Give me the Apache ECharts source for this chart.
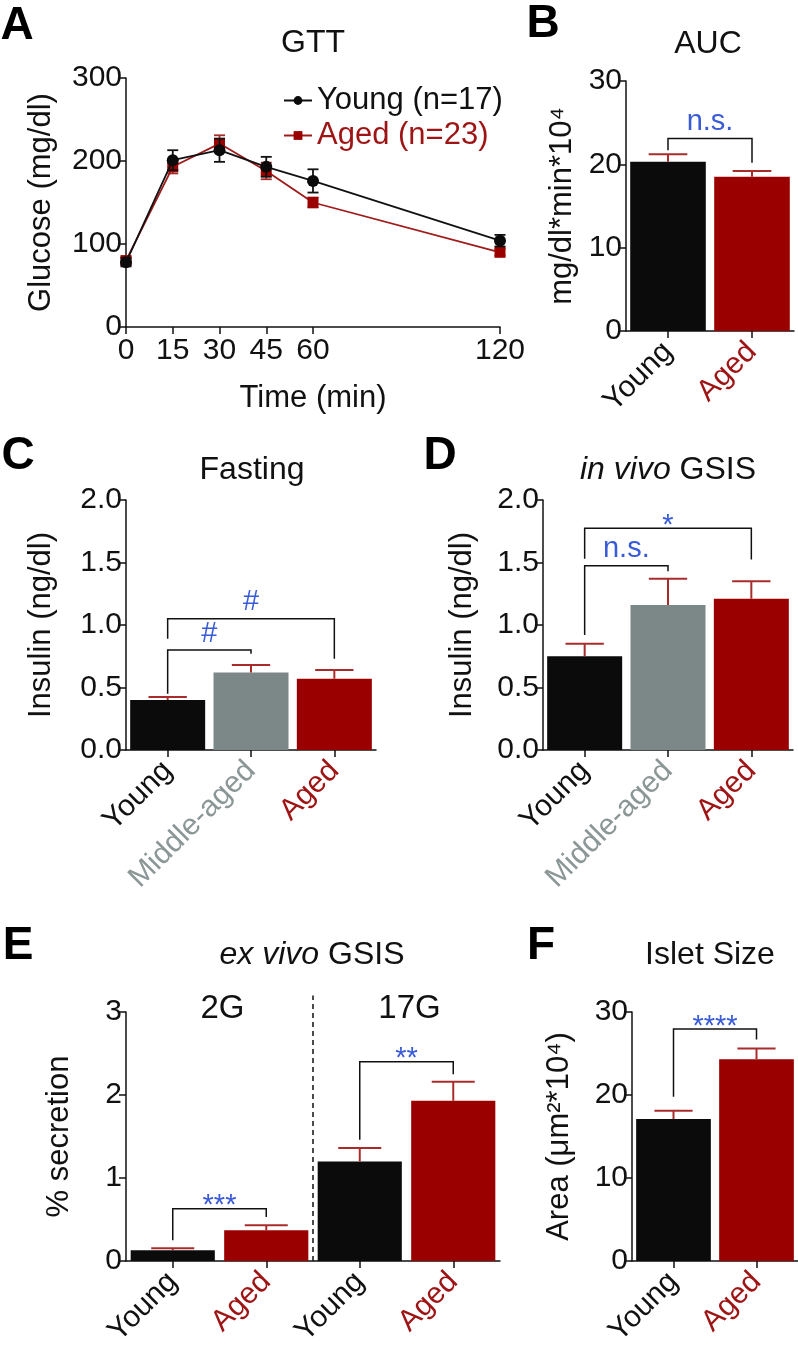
<!DOCTYPE html>
<html><head><meta charset="utf-8">
<script src="https://cdn.jsdelivr.net/npm/echarts@6/dist/echarts.min.js"></script>
<style>html,body{margin:0;padding:0;background:#fff}#c{width:798px;height:1358px}</style>
</head><body><div id="c"></div>
<script>
// ---------------- data ----------------
const gttTimes = [0, 15, 30, 45, 60, 120];
const gttTickValues = [0, 15, 30, 45, 60, 120];
const gttYoung = [78, 201, 213, 193, 176, 104];
const gttYoungErr = [5, 12, 14, 12, 14, 7];
const gttAged = [80, 193, 221, 188, 150, 90];
const gttAgedErr = [4, 8, 10, 10, 6, 4];

const aucCats = ['Young', 'Aged'];
const aucMean = [20.3, 18.5];
const aucErr = [0.9, 0.7];
const aucBrackets = [[0, 1, 23.1, 21.7, 20.2, 'n.s.']];

const insCats = ['Young', 'Middle-aged', 'Aged'];
const fastMean = [0.40, 0.62, 0.57];
const fastErr = [0.025, 0.06, 0.07];
const fastBrackets = [[0, 1, 0.80, 0.45, 0.77, '#'], [0, 2, 1.05, 0.89, 0.73, '#']];
const gsisMean = [0.75, 1.16, 1.21];
const gsisErr = [0.10, 0.21, 0.14];
const gsisBrackets = [[0, 1, 1.475, 0.92, 1.43, 'n.s.'], [0, 2, 1.775, 1.53, 1.525, '*']];

const exCats = ['Young', 'Aged', 'Young', 'Aged'];
const exMean = [0.13, 0.37, 1.20, 1.93];
const exErr = [0.025, 0.06, 0.16, 0.23];
const exBrackets = [[0, 1, 0.63, 0.25, 0.53, '***'], [2, 3, 2.40, 1.46, 2.25, '**']];
const exGroups = [[0, 1, '2G'], [2, 3, '17G']];
const exDivider = [[1, 2, 3.2]];

const isletCats = ['Young', 'Aged'];
const isletMean = [17.1, 24.3];
const isletErr = [1.0, 1.3];
const isletBrackets = [[0, 1, 27.95, 19.8, 26.7, '****']];

// ---------------- styles ----------------
const FONT = "'Liberation Sans', Arial, Helvetica, sans-serif";
const INK = '#111111';
const BLACK = '#0b0b0b';
const RED = '#9b0000';
const REDTXT = '#9e1414';
const GRAY = '#7c8888';
const GRAYTXT = '#8b9696';
const ERR = '#a82c2c';
const BLUE = '#3a5bd8';
const catColor = { 'Young': BLACK, 'Middle-aged': GRAY, 'Aged': RED };
const catText = { 'Young': INK, 'Middle-aged': GRAYTXT, 'Aged': REDTXT };

const grids = [
  { left: 126, top: 78, width: 374, height: 249 },
  { left: 626, top: 81, width: 168, height: 250 },
  { left: 126, top: 500, width: 250, height: 250 },
  { left: 543, top: 500, width: 250, height: 250 },
  { left: 126, top: 1012, width: 374, height: 249 },
  { left: 632, top: 1012, width: 166, height: 249 }
];

const axisLineStyle = { show: true, lineStyle: { color: INK, width: 1.5 } };
const tickStyle = { show: true, length: 7, lineStyle: { color: INK, width: 1.5 } };

function yAxis(gi, max, interval, name, gap, dec) {
  return {
    type: 'value', gridIndex: gi, min: 0, max: max, interval: interval,
    axisLine: axisLineStyle, axisTick: tickStyle, splitLine: { show: false },
    axisLabel: { fontSize: 30, fontFamily: FONT, color: INK, margin: 4,
      formatter: v => dec ? v.toFixed(1) : String(v) },
    name: name, nameLocation: 'middle', nameGap: gap,
    nameTextStyle: { fontSize: 31, fontFamily: FONT, color: INK }
  };
}
function catAxis(gi, cats) {
  return {
    type: 'category', gridIndex: gi,
    data: cats.map(c => ({ value: c, textStyle: { color: catText[c] } })),
    axisLine: axisLineStyle, axisTick: Object.assign({ alignWithLabel: true }, tickStyle),
    axisLabel: { rotate: 45, fontSize: 30, fontFamily: FONT, margin: 16, interval: 0 }
  };
}

function errUpRender(params, api) {
  const x = api.value(0), v = api.value(1), e = api.value(2);
  const p0 = api.coord([x, v]), p1 = api.coord([x, v + e]);
  const half = api.size([1, 0])[0] * 0.23;
  return { type: 'group', children: [
    { type: 'line', shape: { x1: p0[0], y1: p0[1], x2: p1[0], y2: p1[1] }, style: { stroke: ERR, lineWidth: 2 } },
    { type: 'line', shape: { x1: p1[0] - half, y1: p1[1], x2: p1[0] + half, y2: p1[1] }, style: { stroke: ERR, lineWidth: 2 } }
  ] };
}
function errBothRender(color) {
  return function (params, api) {
    const x = api.value(0), v = api.value(1), e = api.value(2);
    const lo = api.coord([x, v - e]), hi = api.coord([x, v + e]);
    const h = 5.5;
    const st = { stroke: color, lineWidth: 1.8 };
    return { type: 'group', children: [
      { type: 'line', shape: { x1: lo[0], y1: lo[1], x2: hi[0], y2: hi[1] }, style: st },
      { type: 'line', shape: { x1: hi[0] - h, y1: hi[1], x2: hi[0] + h, y2: hi[1] }, style: st },
      { type: 'line', shape: { x1: lo[0] - h, y1: lo[1], x2: lo[0] + h, y2: lo[1] }, style: st }
    ] };
  };
}
function bracketRender(list) {
  return function (params, api) {
    const b = list[params.dataIndex];
    const pl = api.coord([b[0], b[2]]), pr = api.coord([b[1], b[2]]);
    const lb = api.coord([b[0], b[3]]), rb = api.coord([b[1], b[4]]);
    const lab = b[5];
    const star = lab.indexOf('*') >= 0;
    return { type: 'group', children: [
      { type: 'polyline', shape: { points: [[pl[0], lb[1]], [pl[0], pl[1]], [pr[0], pr[1]], [pr[0], rb[1]]] },
        style: { stroke: INK, lineWidth: 1.5, fill: null } },
      { type: 'text', x: (pl[0] + pr[0]) / 2, y: pl[1] + (star ? 12 : -2),
        style: { text: lab, fill: BLUE, font: '29px ' + FONT,
          align: 'center', verticalAlign: 'bottom', textAlign: 'center', textVerticalAlign: 'bottom' } }
    ] };
  };
}

function barPanel(gi, cats, mean, err, brackets) {
  return [
    { type: 'bar', xAxisIndex: gi, yAxisIndex: gi, barCategoryGap: '10%',
      data: mean.map((v, i) => ({ value: v, itemStyle: { color: catColor[cats[i]] } })), z: 2 },
    { type: 'custom', xAxisIndex: gi, yAxisIndex: gi, renderItem: errUpRender,
      data: mean.map((v, i) => [i, v, err[i]]), z: 3 },
    { type: 'custom', xAxisIndex: gi, yAxisIndex: gi, renderItem: bracketRender(brackets),
      data: brackets.map(b => [b[0], b[2]]), z: 4 }
  ];
}

const series = [
  { type: 'custom', name: 'errAged', xAxisIndex: 0, yAxisIndex: 0, renderItem: errBothRender(ERR),
    data: gttTimes.map((t, i) => [t, gttAged[i], gttAgedErr[i]]), z: 2 },
  { type: 'line', name: 'Aged (n=23)', xAxisIndex: 0, yAxisIndex: 0, symbol: 'rect', symbolSize: 11,
    data: gttTimes.map((t, i) => [t, gttAged[i]]), color: RED,
    lineStyle: { color: '#a01a1a', width: 1.8 }, itemStyle: { color: RED }, z: 3 },
  { type: 'custom', name: 'errYoung', xAxisIndex: 0, yAxisIndex: 0, renderItem: errBothRender(INK),
    data: gttTimes.map((t, i) => [t, gttYoung[i], gttYoungErr[i]]), z: 4 },
  { type: 'line', name: 'Young (n=17)', xAxisIndex: 0, yAxisIndex: 0, symbol: 'circle', symbolSize: 12,
    data: gttTimes.map((t, i) => [t, gttYoung[i]]), color: BLACK,
    lineStyle: { color: INK, width: 1.8 }, itemStyle: { color: BLACK }, z: 5 }
].concat(
  barPanel(1, aucCats, aucMean, aucErr, aucBrackets),
  barPanel(2, insCats, fastMean, fastErr, fastBrackets),
  barPanel(3, insCats, gsisMean, gsisErr, gsisBrackets),
  barPanel(4, exCats, exMean, exErr, exBrackets),
  barPanel(5, isletCats, isletMean, isletErr, isletBrackets),
  [
    { type: 'custom', xAxisIndex: 4, yAxisIndex: 4, z: 1,
      data: exDivider.map(d => [d[0], d[2]]),
      renderItem: function (params, api) {
        const d = exDivider[params.dataIndex];
        const a = api.coord([d[0], 0]), b = api.coord([d[1], d[2]]);
        const x = (a[0] + b[0]) / 2;
        return { type: 'line', shape: { x1: x, y1: a[1], x2: x, y2: b[1] },
          style: { stroke: INK, lineWidth: 1.5, lineDash: [5, 4] } };
      } },
    { type: 'custom', xAxisIndex: 4, yAxisIndex: 4, z: 1,
      data: exGroups.map(g => [g[0], 3]),
      renderItem: function (params, api) {
        const g = exGroups[params.dataIndex];
        const a = api.coord([g[0], 3]), b = api.coord([g[1], 3]);
        return { type: 'text', x: (a[0] + b[0]) / 2 + 3, y: a[1] - 3,
          style: { text: g[2], fill: INK, font: '33px ' + FONT, align: 'center', verticalAlign: 'middle',
            textAlign: 'center', textVerticalAlign: 'middle' } };
      } }
  ]
);

const option = {
  backgroundColor: '#ffffff',
  animation: false,
  grid: grids,
  xAxis: [
    { type: 'value', gridIndex: 0, min: 0, max: 120,
      axisLine: axisLineStyle, splitLine: { show: false },
      axisTick: Object.assign({ customValues: gttTickValues }, tickStyle),
      axisLabel: { customValues: gttTickValues, fontSize: 30, fontFamily: FONT, color: INK, margin: 9 },
      name: 'Time (min)', nameLocation: 'middle', nameGap: 56,
      nameTextStyle: { fontSize: 31, fontFamily: FONT, color: INK } },
    catAxis(1, aucCats),
    catAxis(2, insCats),
    catAxis(3, insCats),
    catAxis(4, exCats),
    catAxis(5, isletCats)
  ],
  yAxis: [
    yAxis(0, 300, 100, 'Glucose (mg/dl)', 69, false),
    yAxis(1, 30, 10, 'mg/dl*min*10\u2074', 48, false),
    yAxis(2, 2, 0.5, 'Insulin (ng/dl)', 69, true),
    yAxis(3, 2, 0.5, 'Insulin (ng/dl)', 65, true),
    yAxis(4, 3, 1, '% secretion', 51, false),
    yAxis(5, 30, 10, 'Area (\u03bcm\u00b2*10\u2074)', 57, false)
  ],
  legend: {
    left: 278, top: 80, orient: 'vertical', itemGap: 4, itemWidth: 28, itemHeight: 11,
    textStyle: { fontSize: 31, fontFamily: FONT },
    data: [
      { name: 'Young (n=17)', textStyle: { color: INK } },
      { name: 'Aged (n=23)', textStyle: { color: REDTXT } }
    ]
  },
  graphic: [
    ['A', 17, 26], ['B', 543, 24], ['C', 18, 456], ['D', 440, 456], ['E', 18, 946], ['F', 541, 946]
  ].map(l => ({ type: 'text', x: l[1], y: l[2],
      style: { text: l[0], font: 'bold 46px ' + FONT, fill: '#000', align: 'center', verticalAlign: 'middle',
        textAlign: 'center', textVerticalAlign: 'middle' } }))
    .concat([
      ['GTT', 313, 43], ['AUC', 708, 44], ['Fasting', 252, 470], ['{i|in vivo} GSIS', 668, 470],
      ['{i|ex vivo} GSIS', 312, 955], ['Islet Size', 710, 955]
    ].map(t => ({ type: 'text', x: t[1], y: t[2],
      style: { text: t[0], font: '32px ' + FONT, fill: INK, align: 'center', verticalAlign: 'middle',
        textAlign: 'center', textVerticalAlign: 'middle',
        rich: { i: { fontStyle: 'italic', fontSize: 32, fontFamily: FONT, fill: INK, color: INK } } } }))),
  series: series
};

const chart = echarts.init(document.getElementById('c'), null, { renderer: 'canvas', width: 798, height: 1358 });
chart.setOption(option);
</script>
</body></html>
